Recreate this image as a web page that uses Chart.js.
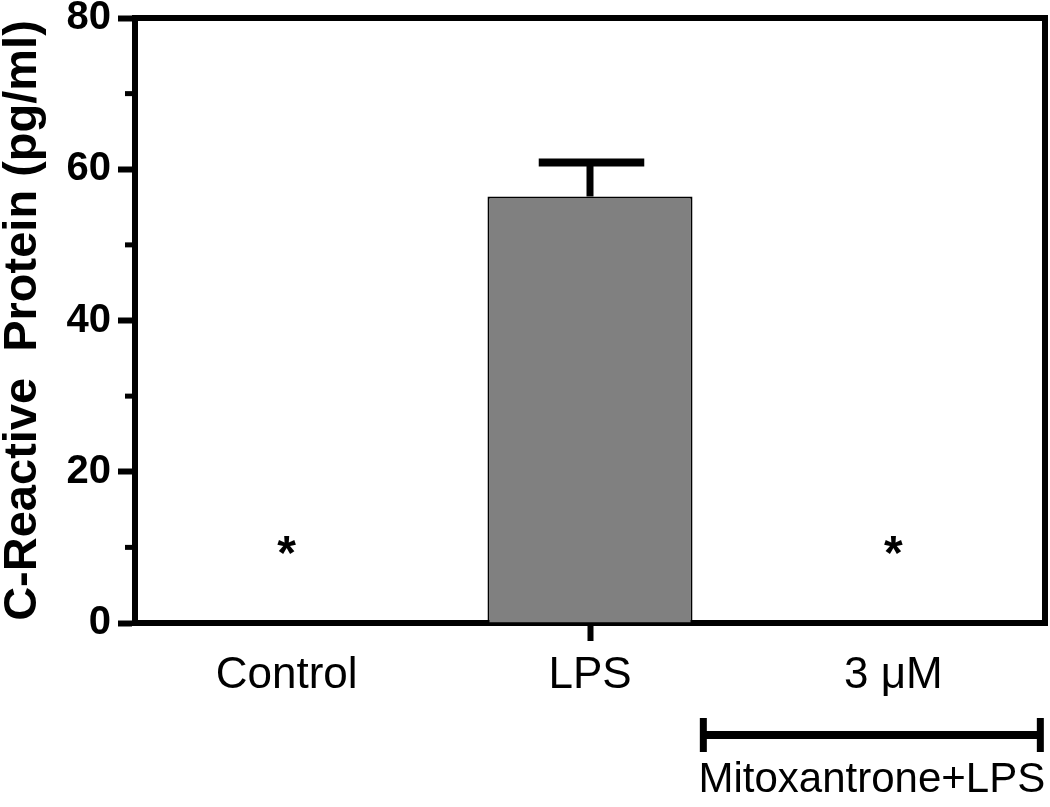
<!DOCTYPE html>
<html>
<head>
<meta charset="utf-8">
<script src="https://cdn.jsdelivr.net/npm/chart.js@4.4.1/dist/chart.umd.min.js"></script>
<style>
  html, body { margin: 0; padding: 0; background: #fff; }
  #wrap { width: 1050px; height: 807px; }
</style>
</head>
<body>
<div id="wrap"><canvas id="crpChart"></canvas></div>
<script>
// values
const groups = ['Control', 'LPS', '3 \u03bcM'];
const crpMean = [0, 56.4, 0];
const crpSem = [0, 4.5, 0];
const starLevel = [10.3, null, 10.3];   // where the significance asterisks sit
const yTicks = [0, 20, 40, 60, 80];
const minorTicks = [10, 30, 50, 70];
const bracketText = 'Mitoxantrone+LPS';

const FONT = "'Liberation Sans', Arial, Helvetica, sans-serif";
Chart.defaults.font.family = FONT;
Chart.defaults.color = '#000';

// error bars, asterisks, frame, minor ticks and the treatment bracket
const extras = {
  id: 'extras',
  afterDraw(chart) {
    const { ctx, chartArea: a, scales: { x, y } } = chart;
    const bars = chart.getDatasetMeta(0).data;
    ctx.save();
    ctx.strokeStyle = '#000';
    ctx.fillStyle = '#000';
    ctx.lineCap = 'butt';

    // upper error bar only
    crpMean.forEach((m, i) => {
      if (!crpSem[i]) return;
      const cx = x.getPixelForValue(i);
      const half = bars[i].width / 4;
      const yTop = y.getPixelForValue(m + crpSem[i]);
      ctx.lineWidth = 7;
      ctx.beginPath();
      ctx.moveTo(cx, y.getPixelForValue(m));
      ctx.lineTo(cx, yTop);
      ctx.stroke();
      ctx.lineWidth = 8;
      ctx.beginPath();
      ctx.moveTo(cx - half, yTop);
      ctx.lineTo(cx + half + 3, yTop);
      ctx.stroke();
    });

    // asterisks
    ctx.font = 'bold 48px ' + FONT;
    ctx.textAlign = 'center';
    ctx.textBaseline = 'alphabetic';
    const mt = ctx.measureText('*');
    const shift = (mt.actualBoundingBoxAscent - mt.actualBoundingBoxDescent) / 2;
    starLevel.forEach((lv, i) => {
      if (lv == null) return;
      ctx.fillText('*', x.getPixelForValue(i), y.getPixelForValue(lv) + shift);
    });

    // top and right frame
    ctx.lineWidth = 6;
    ctx.beginPath();
    ctx.moveTo(a.left - 3, a.top);
    ctx.lineTo(a.right, a.top);
    ctx.lineTo(a.right, a.bottom + 3);
    ctx.stroke();

    // minor y ticks
    ctx.lineWidth = 5;
    minorTicks.forEach(v => {
      const py = y.getPixelForValue(v);
      ctx.beginPath();
      ctx.moveTo(a.left - 10, py);
      ctx.lineTo(a.left, py);
      ctx.stroke();
    });

    // bracket under the mitoxantrone group
    const c3 = x.getPixelForValue(2);
    const bl = c3 - 190, br = c3 + 147, by = 735;
    ctx.lineWidth = 8;
    ctx.beginPath();
    ctx.moveTo(bl, by); ctx.lineTo(br, by);
    ctx.stroke();
    ctx.lineWidth = 7;
    ctx.beginPath();
    ctx.moveTo(bl, by - 17); ctx.lineTo(bl, by + 17);
    ctx.moveTo(br, by - 17); ctx.lineTo(br, by + 17);
    ctx.stroke();
    ctx.font = '42px ' + FONT;
    ctx.fillText(bracketText, (bl + br) / 2, 792);
    ctx.restore();
  }
};

new Chart(document.getElementById('crpChart'), {
  type: 'bar',
  data: {
    labels: groups,
    datasets: [{
      data: crpMean,
      backgroundColor: '#808080',
      borderColor: '#000',
      borderWidth: 2,
      barPercentage: 0.676,
      categoryPercentage: 1
    }]
  },
  options: {
    responsive: true,
    maintainAspectRatio: false,
    animation: false,
    layout: { padding: { top: 18, right: 5, left: 0, bottom: 0 } },
    plugins: { legend: { display: false }, tooltip: { enabled: false } },
    scales: {
      x: {
        afterFit: s => { s.height = 184; s.paddingLeft = 0; s.paddingRight = 0; },
        border: { display: true, width: 6, color: '#000' },
        grid: {
          drawOnChartArea: false,
          offset: false,
          tickLength: 18,
          tickWidth: 6,
          tickColor: c => (c.index === 1 ? '#000' : 'rgba(0,0,0,0)')
        },
        ticks: { font: { size: 44 }, padding: 8, color: '#000' }
      },
      y: {
        min: 0,
        max: 80,
        afterBuildTicks: s => { s.ticks = yTicks.map(v => ({ value: v })); },
        afterFit: s => { s.width = 135; s.paddingTop = 0; s.paddingBottom = 0; },
        border: { display: true, width: 6, color: '#000' },
        grid: { drawOnChartArea: false, tickLength: 17, tickWidth: 6, tickColor: '#000' },
        ticks: {
          color: '#000',
          padding: 7,
          font: { size: 40, weight: 'bold' }
        },
        title: {
          display: true,
          text: 'C-Reactive  Protein (pg/ml)',
          color: '#000',
          font: { size: 47, weight: 'bold', lineHeight: 1 },
          padding: { top: 0, bottom: 0 }
        }
      }
    }
  },
  plugins: [extras]
});
</script>
</body>
</html>
